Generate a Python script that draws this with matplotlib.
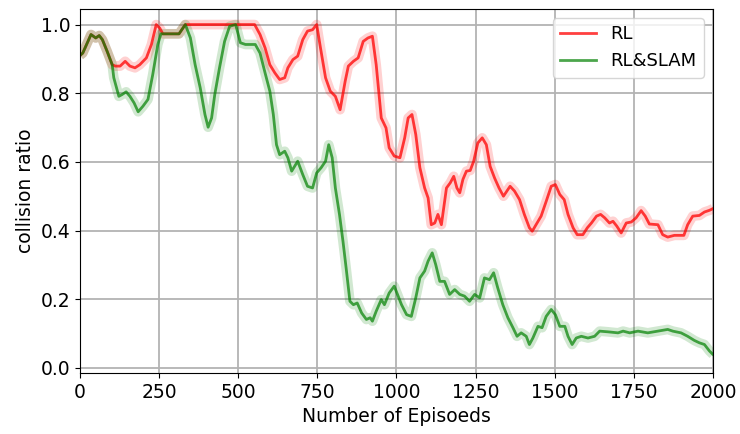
import numpy as np
import matplotlib.pyplot as plt

# RL (collision ratio)
ep_rl = [0, 9, 35, 50, 61, 71, 86, 102, 112, 127, 143, 158, 174, 189, 210, 226, 241, 252,
         262, 313, 333, 347, 400, 500, 552, 569, 585, 600, 616, 631, 647, 657, 673, 688,
         704, 719, 735, 748, 760, 776, 791, 807, 822, 838, 848, 864, 879, 895, 910, 924,
         936, 952, 967, 977, 993, 1011, 1026, 1037, 1049, 1061, 1074, 1089, 1100, 1110,
         1121, 1131, 1142, 1158, 1170, 1181, 1191, 1200, 1210, 1221, 1233, 1244, 1257,
         1271, 1284, 1296, 1310, 1324, 1338, 1359, 1373, 1389, 1404, 1420, 1429, 1441,
         1457, 1473, 1489, 1502, 1516, 1530, 1542, 1558, 1571, 1589, 1603, 1616, 1632,
         1645, 1658, 1673, 1684, 1696, 1710, 1726, 1742, 1757, 1773, 1786, 1799, 1826,
         1841, 1857, 1878, 1908, 1920, 1936, 1957, 1973, 1989, 2000]
rl = [0.91, 0.917, 0.971, 0.961, 0.968, 0.956, 0.922, 0.883, 0.879, 0.879, 0.893, 0.879,
      0.874, 0.883, 0.903, 0.942, 1.0, 0.99, 0.973, 0.973, 1.0, 1.0, 1.0, 1.0, 1.0, 0.971,
      0.932, 0.883, 0.859, 0.840, 0.845, 0.874, 0.898, 0.908, 0.956, 0.981, 0.985, 1.0,
      0.932, 0.845, 0.806, 0.791, 0.752, 0.835, 0.879, 0.893, 0.903, 0.951, 0.961, 0.966,
      0.883, 0.728, 0.699, 0.641, 0.617, 0.612, 0.670, 0.728, 0.738, 0.680, 0.583, 0.524,
      0.495, 0.417, 0.422, 0.447, 0.417, 0.524, 0.539, 0.558, 0.524, 0.510, 0.549, 0.573,
      0.575, 0.602, 0.655, 0.670, 0.650, 0.587, 0.553, 0.524, 0.500, 0.529, 0.515, 0.490,
      0.447, 0.408, 0.398, 0.417, 0.442, 0.485, 0.529, 0.534, 0.505, 0.490, 0.447, 0.408,
      0.388, 0.388, 0.408, 0.422, 0.442, 0.447, 0.437, 0.422, 0.427, 0.413, 0.393, 0.422,
      0.425, 0.437, 0.458, 0.442, 0.419, 0.417, 0.388, 0.381, 0.386, 0.386, 0.417, 0.442,
      0.444, 0.454, 0.459, 0.464]

# RL&SLAM
ep_slam = [0, 9, 35, 50, 61, 71, 86, 102, 107, 123, 133, 146, 158, 171, 184, 199, 215,
           230, 246, 256, 313, 333, 349, 364, 380, 395, 405, 416, 426, 441, 457, 473, 492,
           507, 523, 554, 569, 585, 600, 611, 621, 631, 647, 657, 669, 688, 704, 719, 735,
           748, 762, 776, 786, 797, 807, 820, 831, 841, 853, 864, 876, 890, 905, 917, 924,
           936, 952, 962, 977, 993, 1016, 1032, 1047, 1061, 1074, 1089, 1100, 1113, 1124,
           1137, 1152, 1168, 1184, 1200, 1215, 1231, 1247, 1263, 1278, 1294, 1307, 1320,
           1336, 1352, 1368, 1381, 1394, 1410, 1420, 1431, 1447, 1460, 1473, 1489, 1502,
           1516, 1532, 1542, 1555, 1568, 1584, 1605, 1626, 1642, 1668, 1700, 1716, 1737,
           1763, 1794, 1826, 1857, 1873, 1899, 1920, 1941, 1957, 1973, 1989, 2000]
slam = [0.91, 0.917, 0.971, 0.961, 0.968, 0.956, 0.922, 0.883, 0.845, 0.791, 0.796, 0.804,
        0.791, 0.772, 0.746, 0.762, 0.782, 0.854, 0.942, 0.973, 0.973, 1.0, 0.961, 0.883,
        0.816, 0.738, 0.701, 0.728, 0.796, 0.874, 0.951, 0.995, 1.0, 0.947, 0.942, 0.942,
        0.917, 0.859, 0.806, 0.738, 0.650, 0.621, 0.631, 0.612, 0.573, 0.602, 0.563, 0.529,
        0.524, 0.568, 0.583, 0.602, 0.650, 0.612, 0.524, 0.447, 0.369, 0.291, 0.194, 0.184,
        0.189, 0.160, 0.141, 0.146, 0.136, 0.165, 0.199, 0.184, 0.218, 0.238, 0.184, 0.155,
        0.150, 0.204, 0.262, 0.282, 0.311, 0.335, 0.301, 0.252, 0.252, 0.214, 0.228, 0.214,
        0.209, 0.194, 0.214, 0.204, 0.262, 0.257, 0.277, 0.233, 0.184, 0.146, 0.117, 0.092,
        0.102, 0.092, 0.068, 0.087, 0.121, 0.117, 0.150, 0.170, 0.155, 0.121, 0.121, 0.092,
        0.068, 0.087, 0.092, 0.087, 0.092, 0.107, 0.105, 0.102, 0.107, 0.102, 0.107, 0.102,
        0.107, 0.112, 0.107, 0.102, 0.092, 0.080, 0.073, 0.068, 0.049, 0.039]

fig = plt.figure(figsize=(7.4, 4.34), dpi=100)
ax = fig.add_axes([0.108, 0.1405, 0.8555, 0.8385])

# light thick band underneath, then the line itself
ax.plot(ep_rl, rl, color='red', lw=7, alpha=0.18, solid_capstyle='butt')
ax.plot(ep_slam, slam, color='green', lw=7, alpha=0.18, solid_capstyle='butt')
ax.plot(ep_rl, rl, color='red', lw=2, alpha=0.75, label='RL')
ax.plot(ep_slam, slam, color='green', lw=2, alpha=0.7, label='RL&SLAM')

ax.set_xlim(0, 2000)
ax.set_ylim(-0.015, 1.045)
ax.set_xticks(np.arange(0, 2001, 250))
ax.set_yticks(np.arange(0, 1.01, 0.2))
ax.grid(True, color='0.7', lw=1.3)
ax.tick_params(labelsize=13.5)
ax.set_xlabel('Number of Episoeds', fontsize=13.5)
ax.set_ylabel('collision ratio', fontsize=13.5)
ax.legend(loc='upper right', fontsize=13)

fig.savefig('out.png', dpi=100)
